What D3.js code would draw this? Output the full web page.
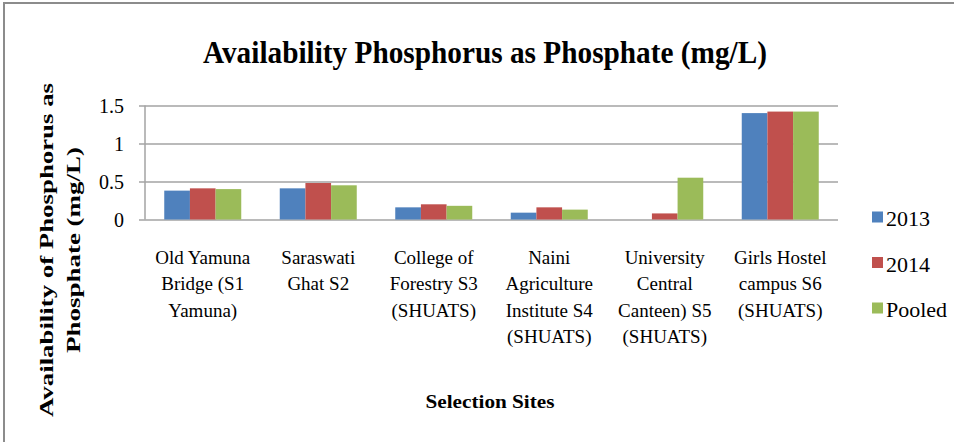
<!DOCTYPE html>
<html>
<head>
<meta charset="utf-8">
<script src="https://cdn.jsdelivr.net/npm/d3@7"></script>
<style>
    body { margin: 0; background: #fff; }
    svg { display: block; }
    .grid line { stroke: #a3a3a3; stroke-width: 1.5; }
    .grid path { display: none; }
</style>
</head>
<body>
<svg id="chart"></svg>
<script>
/*-------------------------------------------------------*/
/*------------------------ Data -------------------------*/
/*-------------------------------------------------------*/
const sites = ["S1", "S2", "S3", "S4", "S5", "S6"];
const siteLabels = [
    ["Old Yamuna", "Bridge (S1", "Yamuna)"],
    ["Saraswati", "Ghat S2"],
    ["College of", "Forestry S3", "(SHUATS)"],
    ["Naini", "Agriculture", "Institute S4", "(SHUATS)"],
    ["University", "Central", "Canteen) S5", "(SHUATS)"],
    ["Girls Hostel", "campus S6", "(SHUATS)"]
];
const seriesNames = ["2013", "2014", "Pooled"];
const values2013 = [0.38, 0.41, 0.16, 0.09, 0.00, 1.40];
const values2014 = [0.41, 0.48, 0.20, 0.16, 0.08, 1.42];
const valuesPooled = [0.40, 0.45, 0.18, 0.13, 0.55, 1.42];
const yTicks = [0, 0.5, 1, 1.5];
const colors = ["#4f81bd", "#c0504d", "#9bbb59"];

const titleText = "Availability Phosphorus as Phosphate (mg/L)";
const yTitleLines = ["Availability of Phosphorus as", "Phosphate (mg/L)"];
const xTitleText = "Selection Sites";

/*-------------------------------------------------------*/
/*------------------- Window setting --------------------*/
/*-------------------------------------------------------*/
const width = 954, height = 442;
const plot = { left: 145, right: 838, top: 105.5, bottom: 219.5 };
const FONT = "Liberation Serif";

const svg = d3.select("#chart")
    .attr("width", width)
    .attr("height", height)
    .style("font-family", FONT);

// outer frame (only top and left edges show in the picture)
svg.append("rect")
    .attr("x", 4).attr("y", 3)
    .attr("width", width + 20).attr("height", height + 20)
    .attr("fill", "none")
    .attr("stroke", "#8c8c8c")
    .attr("stroke-width", 2);

/*-------------------------------------------------------*/
/*------------------------ Scales -----------------------*/
/*-------------------------------------------------------*/
let x0 = d3.scaleBand()
    .domain(sites)
    .range([plot.left, plot.right])
    .padding(0);

// excel style: 150% gap between groups
let x1 = d3.scaleBand()
    .domain(seriesNames)
    .range([0, x0.bandwidth()])
    .paddingInner(0)
    .paddingOuter(0.75);

let y = d3.scaleLinear()
    .domain([0, 1.5])
    .range([plot.bottom, plot.top]);

let color = d3.scaleOrdinal()
    .domain(seriesNames)
    .range(colors);

/*-------------------------------------------------------*/
/*------------------------ Grid -------------------------*/
/*-------------------------------------------------------*/
svg.append("g")
    .attr("class", "grid")
    .attr("transform", "translate(" + plot.right + ",0)")
    .call(d3.axisLeft(y)
        .tickValues(yTicks)
        .tickSize(plot.right - plot.left + 6)
        .tickFormat(""));

// vertical axis line
svg.append("line")
    .attr("x1", plot.left).attr("x2", plot.left)
    .attr("y1", y(1.5)).attr("y2", y(0))
    .attr("stroke", "#a3a3a3")
    .attr("stroke-width", 1.5);

// y tick labels
svg.append("g")
    .selectAll("text")
    .data(yTicks)
    .enter()
    .append("text")
    .style("font-family", FONT)
    .style("font-size", "20px")
    .attr("x", 124)
    .attr("y", d => y(d))
    .attr("dy", "0.36em")
    .attr("text-anchor", "end")
    .text(d => String(d));

/*-------------------------------------------------------*/
/*------------------------ Bars -------------------------*/
/*-------------------------------------------------------*/
const rows = sites.map((s, i) => ({
    site: s,
    vals: [values2013[i], values2014[i], valuesPooled[i]]
}));

svg.append("g")
    .selectAll("g")
    .data(rows)
    .enter()
    .append("g")
    .attr("transform", d => "translate(" + x0(d.site) + ",0)")
    .selectAll("rect")
    .data(d => d.vals.map((v, j) => ({ key: seriesNames[j], value: v })))
    .enter()
    .append("rect")
    .attr("x", d => x1(d.key))
    .attr("y", d => y(d.value))
    .attr("width", x1.bandwidth())
    .attr("height", d => y(0) - y(d.value))
    .attr("fill", d => color(d.key));

/*-------------------------------------------------------*/
/*------------------- Category labels -------------------*/
/*-------------------------------------------------------*/
const catLabels = svg.append("g")
    .selectAll("text")
    .data(sites)
    .enter()
    .append("text")
    .style("font-family", FONT)
    .style("font-size", "19px")
    .attr("text-anchor", "middle");

catLabels.selectAll("tspan")
    .data((d, i) => siteLabels[i].map(t => ({ site: d, t: t })))
    .enter()
    .append("tspan")
    .attr("x", d => x0(d.site) + x0.bandwidth() / 2)
    .attr("y", (d, k) => 263.5 + k * 26.6)
    .text(d => d.t);

/*-------------------------------------------------------*/
/*------------------------ Legend -----------------------*/
/*-------------------------------------------------------*/
const legend = svg.append("g")
    .selectAll("g")
    .data(seriesNames)
    .enter()
    .append("g")
    .attr("transform", (d, i) => "translate(872," + (211.5 + i * 45.5) + ")");

legend.append("rect")
    .attr("width", 11).attr("height", 11)
    .attr("fill", d => color(d));

legend.append("text")
    .style("font-family", FONT)
    .style("font-size", "22px")
    .attr("x", 14)
    .attr("y", 14.5)
    .text(d => d);

/*-------------------------------------------------------*/
/*------------------------ Titles -----------------------*/
/*-------------------------------------------------------*/
svg.append("text")
    .style("font-family", FONT)
    .style("font-size", "32px")
    .style("font-weight", "bold")
    .attr("x", 485)
    .attr("y", 63)
    .attr("text-anchor", "middle")
    .attr("textLength", 564)
    .attr("lengthAdjust", "spacingAndGlyphs")
    .text(titleText);

// text label for the y axis
const yTitleLen = [334, 206];
svg.append("g")
    .selectAll("text")
    .data(yTitleLines)
    .enter()
    .append("text")
    .style("font-family", FONT)
    .style("font-size", "19px")
    .style("font-weight", "bold")
    .attr("transform", (d, i) => "translate(" + (53 + i * 27) + ",250) rotate(-90)")
    .attr("text-anchor", "middle")
    .attr("textLength", (d, i) => yTitleLen[i])
    .attr("lengthAdjust", "spacingAndGlyphs")
    .text(d => d);

// text label for the x axis
svg.append("text")
    .style("font-family", FONT)
    .style("font-size", "19px")
    .style("font-weight", "bold")
    .attr("x", 490)
    .attr("y", 408)
    .attr("text-anchor", "middle")
    .attr("textLength", 129)
    .attr("lengthAdjust", "spacingAndGlyphs")
    .text(xTitleText);
</script>
</body>
</html>
